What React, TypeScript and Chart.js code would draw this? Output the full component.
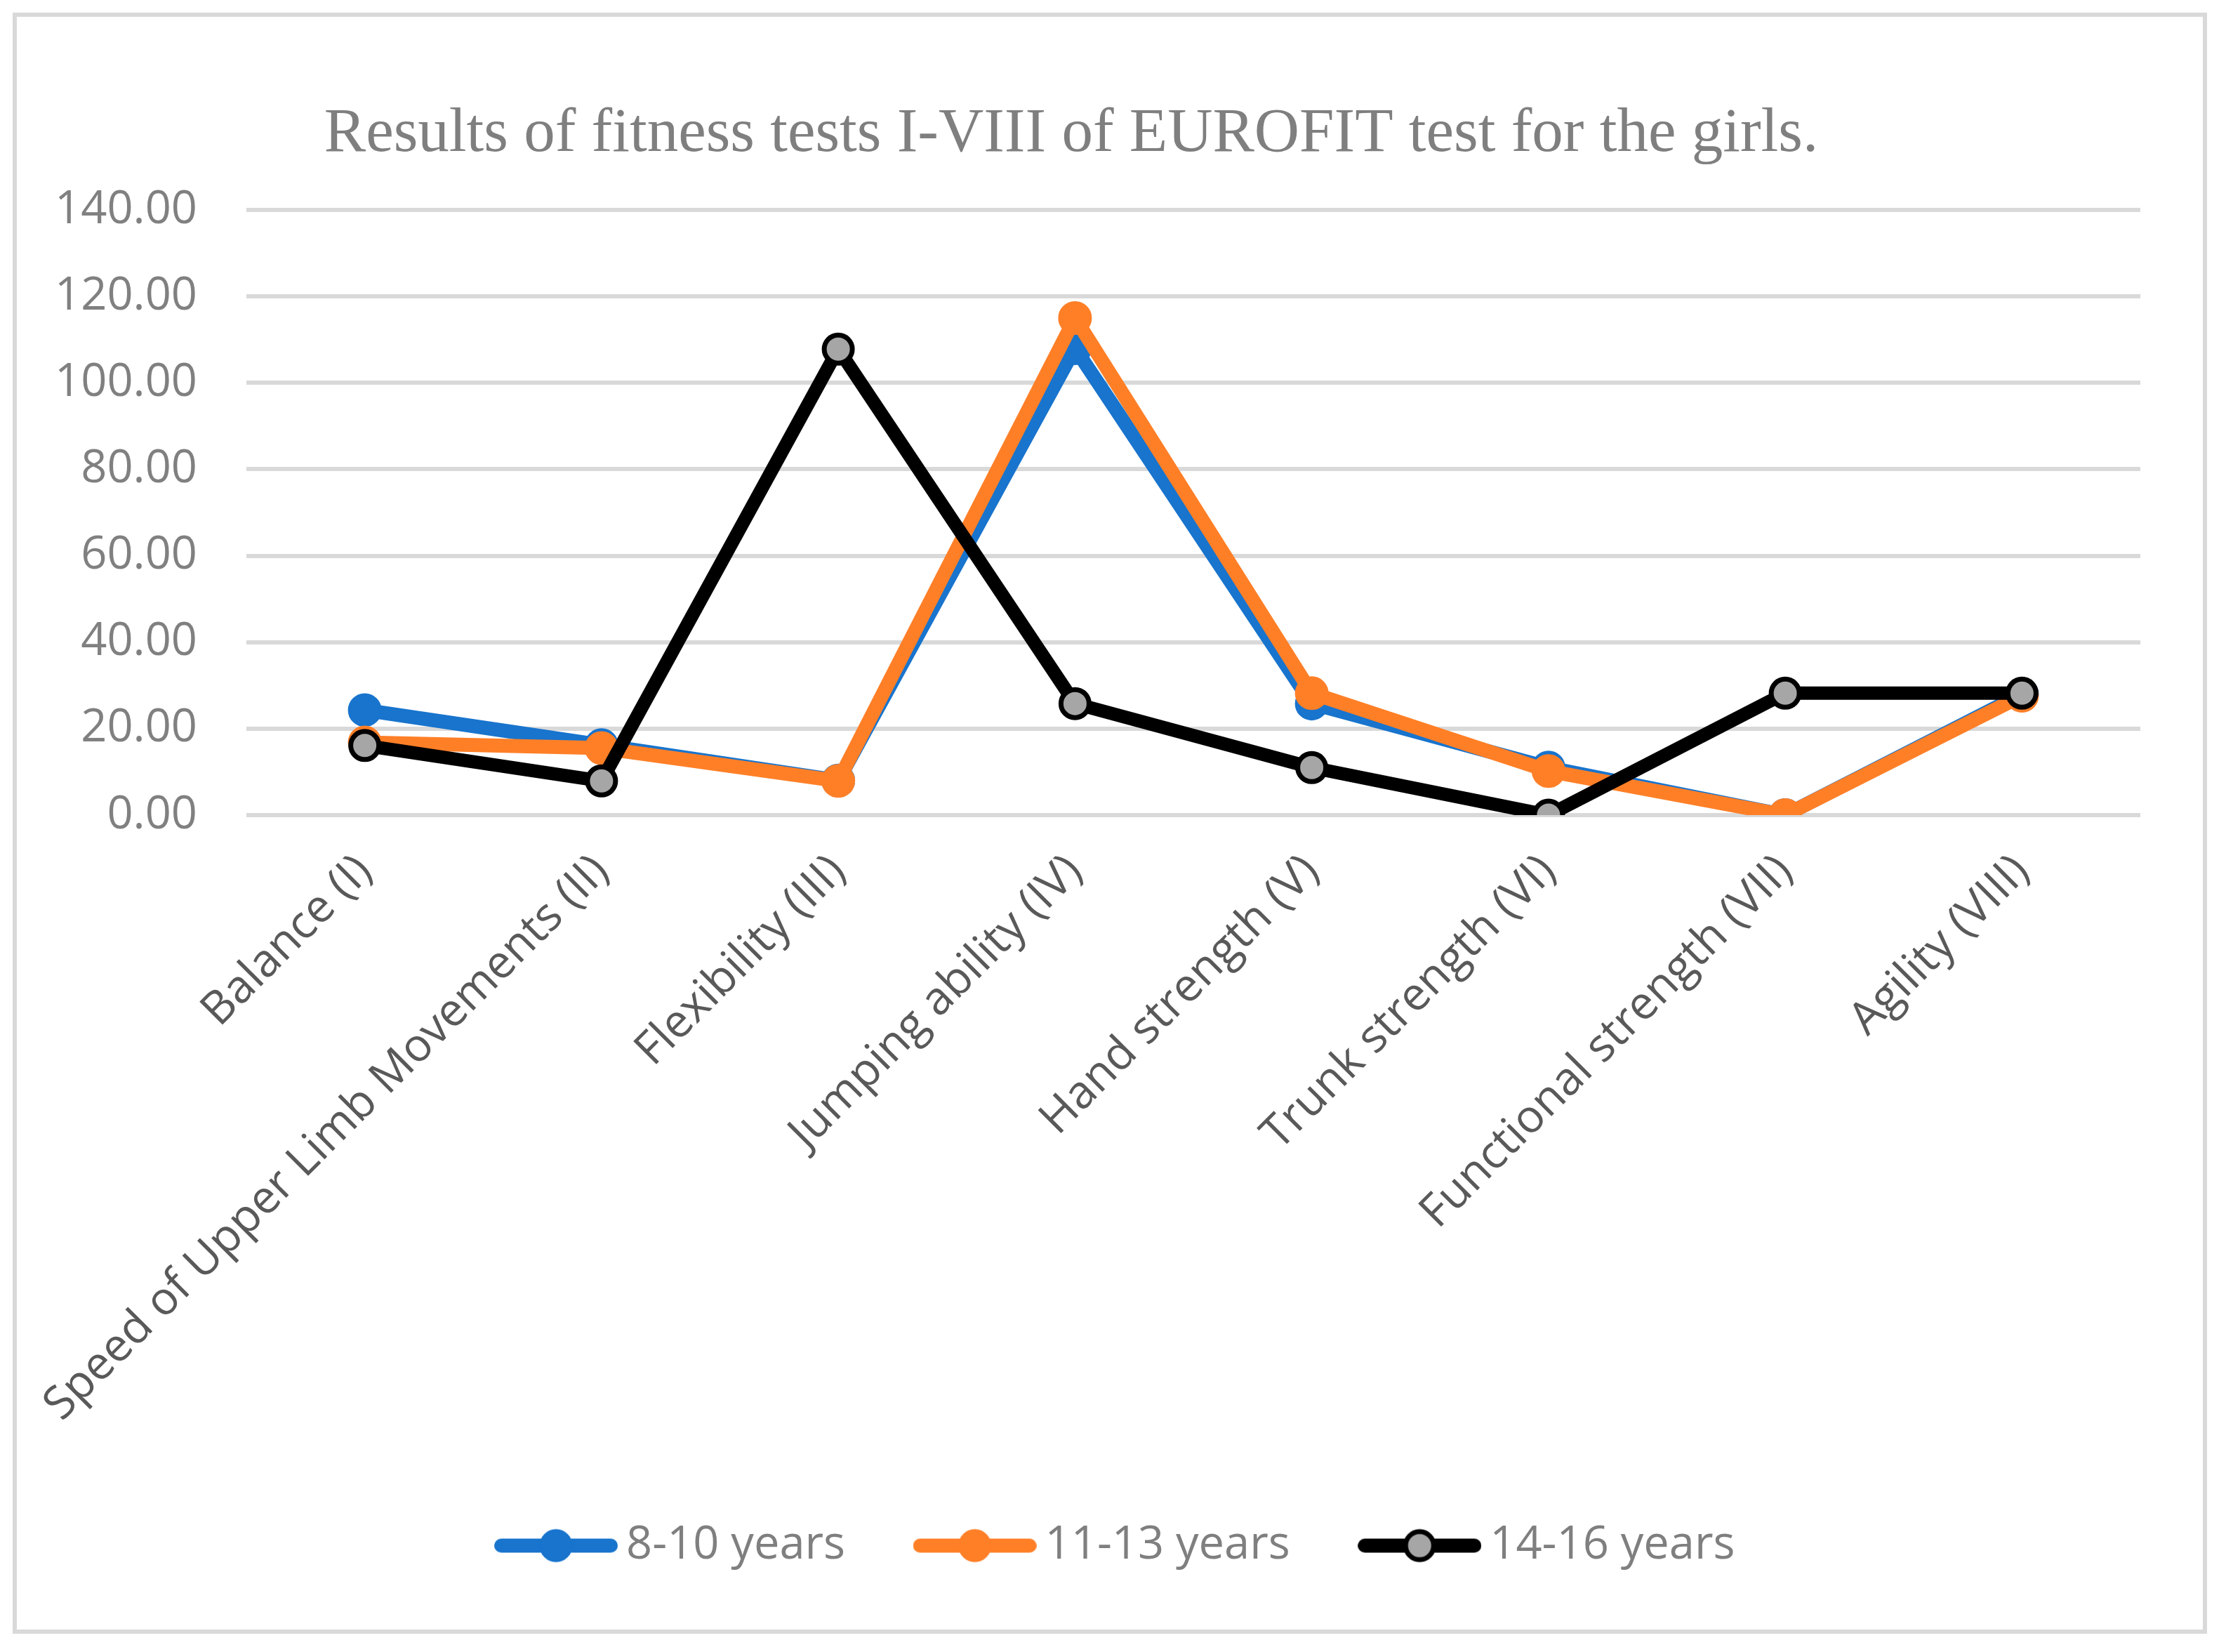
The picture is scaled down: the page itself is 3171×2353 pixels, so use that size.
import { useEffect, useRef } from "react"
import { Chart, registerables } from "chart.js"

Chart.register(...registerables)

const chartTitle = "Results of fitness tests I-VIII of EUROFIT test for the girls."

const categories = [
  "Balance (I)",
  "Speed of Upper Limb Movements (II)",
  "Flexibility (III)",
  "Jumping ability (IV)",
  "Hand strength (V)",
  "Trunk strength (VI)",
  "Functional strength (VII)",
  "Agility (VIII)",
]

const seriesNames = ["8-10 years", "11-13 years", "14-16 years"]

const years8to10 = [24.3, 16.2, 8.0, 108.0, 25.8, 11.0, 0.0, 28.0]
const years11to13 = [16.8, 15.5, 7.9, 115.0, 28.2, 10.2, 0.0, 27.6]
const years14to16 = [16.1, 7.9, 107.8, 25.8, 11.0, 0.0, 28.2, 28.2]

const yMin = 0
const yMax = 140
const yStep = 20

const BLUE = "#1874CD"
const ORANGE = "#FF7F27"
const BLACK = "#000000"
const MARKER_GRAY = "#A6A6A6"

// line + marker swatch used as the legend "point style"
function legendSwatch(line: string, fill: string, border: string, borderW: number) {
  const c = document.createElement("canvas")
  c.width = 176
  c.height = 52
  const g = c.getContext("2d")!
  g.strokeStyle = line
  g.lineWidth = 20
  g.lineCap = "round"
  g.beginPath()
  g.moveTo(10, 26)
  g.lineTo(166, 26)
  g.stroke()
  g.beginPath()
  g.arc(88, 26, 23.5 - borderW / 2, 0, Math.PI * 2)
  g.fillStyle = fill
  g.fill()
  g.lineWidth = borderW
  g.strokeStyle = border
  g.stroke()
  return c
}

const titlePlugin = {
  id: "sheetTitle",
  afterDraw(chart: Chart) {
    const { ctx } = chart
    ctx.save()
    ctx.font = "89px 'Liberation Serif'"
    ctx.fillStyle = "#7F7F7F"
    ctx.textAlign = "center"
    ctx.textBaseline = "alphabetic"
    ctx.fillText(chartTitle, 1502, 191)
    ctx.restore()
  },
}

// nudge the legend row a little to the right, like the Excel original
const legendNudge = {
  id: "legendNudge",
  afterLayout(chart: any) {
    if (chart.legend) {
      chart.legend.left += 35
      chart.legend.right += 35
    }
  },
}

export default function App() {
  const chartRef = useRef<HTMLCanvasElement>(null)
  const chartInstance = useRef<Chart | null>(null)

  useEffect(() => {
    if (!chartRef.current) return
    if (chartInstance.current) chartInstance.current.destroy()
    const ctx = chartRef.current.getContext("2d")
    if (!ctx) return

    const swatches = [
      legendSwatch(BLUE, BLUE, BLUE, 2),
      legendSwatch(ORANGE, ORANGE, ORANGE, 2),
      legendSwatch(BLACK, MARKER_GRAY, BLACK, 7),
    ]

    chartInstance.current = new Chart(ctx, {
      type: "line",
      data: {
        labels: categories,
        datasets: [
          {
            label: seriesNames[0],
            data: years8to10,
            borderColor: BLUE,
            backgroundColor: BLUE,
            borderWidth: 20,
            pointRadius: 22,
            pointBorderWidth: 4,
            pointBorderColor: BLUE,
            pointBackgroundColor: BLUE,
            order: 3,
          },
          {
            label: seriesNames[1],
            data: years11to13,
            borderColor: ORANGE,
            backgroundColor: ORANGE,
            borderWidth: 20,
            pointRadius: 22,
            pointBorderWidth: 4,
            pointBorderColor: ORANGE,
            pointBackgroundColor: ORANGE,
            order: 2,
          },
          {
            label: seriesNames[2],
            data: years14to16,
            borderColor: BLACK,
            backgroundColor: BLACK,
            borderWidth: 19,
            pointRadius: 20,
            pointBorderWidth: 7,
            pointBorderColor: BLACK,
            pointBackgroundColor: MARKER_GRAY,
            order: 1,
          },
        ],
      },
      options: {
        responsive: false,
        animation: false,
        events: [],
        elements: {
          line: { tension: 0, borderJoinStyle: "round", borderCapStyle: "round" },
        },
        layout: {
          padding: { left: 53, right: 89, top: 275, bottom: 77 },
        },
        plugins: {
          title: { display: false },
          tooltip: { enabled: false },
          legend: {
            position: "bottom",
            labels: {
              usePointStyle: true,
              pointStyleWidth: 135,
              padding: 117,
              color: "#7F7F7F",
              font: { family: "'Open Sans'", size: 65 },
              generateLabels: (chart: Chart) =>
                chart.data.datasets.map((ds, i) => ({
                  text: ds.label as string,
                  fillStyle: ds.borderColor as string,
                  strokeStyle: ds.borderColor as string,
                  fontColor: "#7F7F7F",
                  lineWidth: 0,
                  pointStyle: swatches[i],
                  hidden: false,
                  datasetIndex: i,
                })),
            },
          },
        },
        scales: {
          x: {
            offset: true,
            grid: { display: false, drawTicks: false },
            border: { display: false },
            ticks: {
              autoSkip: false,
              minRotation: 45,
              maxRotation: 45,
              padding: 42,
              color: "#595959",
              font: { family: "'Open Sans'", size: 65 },
            },
            afterFit: (axis: any) => {
              axis.height = 891
            },
          },
          y: {
            min: yMin,
            max: yMax,
            grid: { color: "#D9D9D9", lineWidth: 6, drawTicks: false },
            border: { display: false },
            ticks: {
              stepSize: yStep,
              padding: 70,
              color: "#808080",
              font: { family: "'Open Sans'", size: 65 },
              callback: (v: any) => Number(v).toFixed(2),
            },
            afterFit: (axis: any) => {
              axis.width = 274
            },
          },
        },
      },
      plugins: [titlePlugin, legendNudge],
    })

    return () => {
      if (chartInstance.current) {
        chartInstance.current.destroy()
        chartInstance.current = null
      }
    }
  }, [])

  return (
    <div
      style={{
        position: "absolute",
        left: 18,
        top: 18,
        width: 3126,
        height: 2309,
        border: "6px solid #D9D9D9",
        boxSizing: "border-box",
        background: "#FFFFFF",
      }}
    >
      <canvas ref={chartRef} width={3114} height={2297} style={{ display: "block" }} />
    </div>
  )
}
